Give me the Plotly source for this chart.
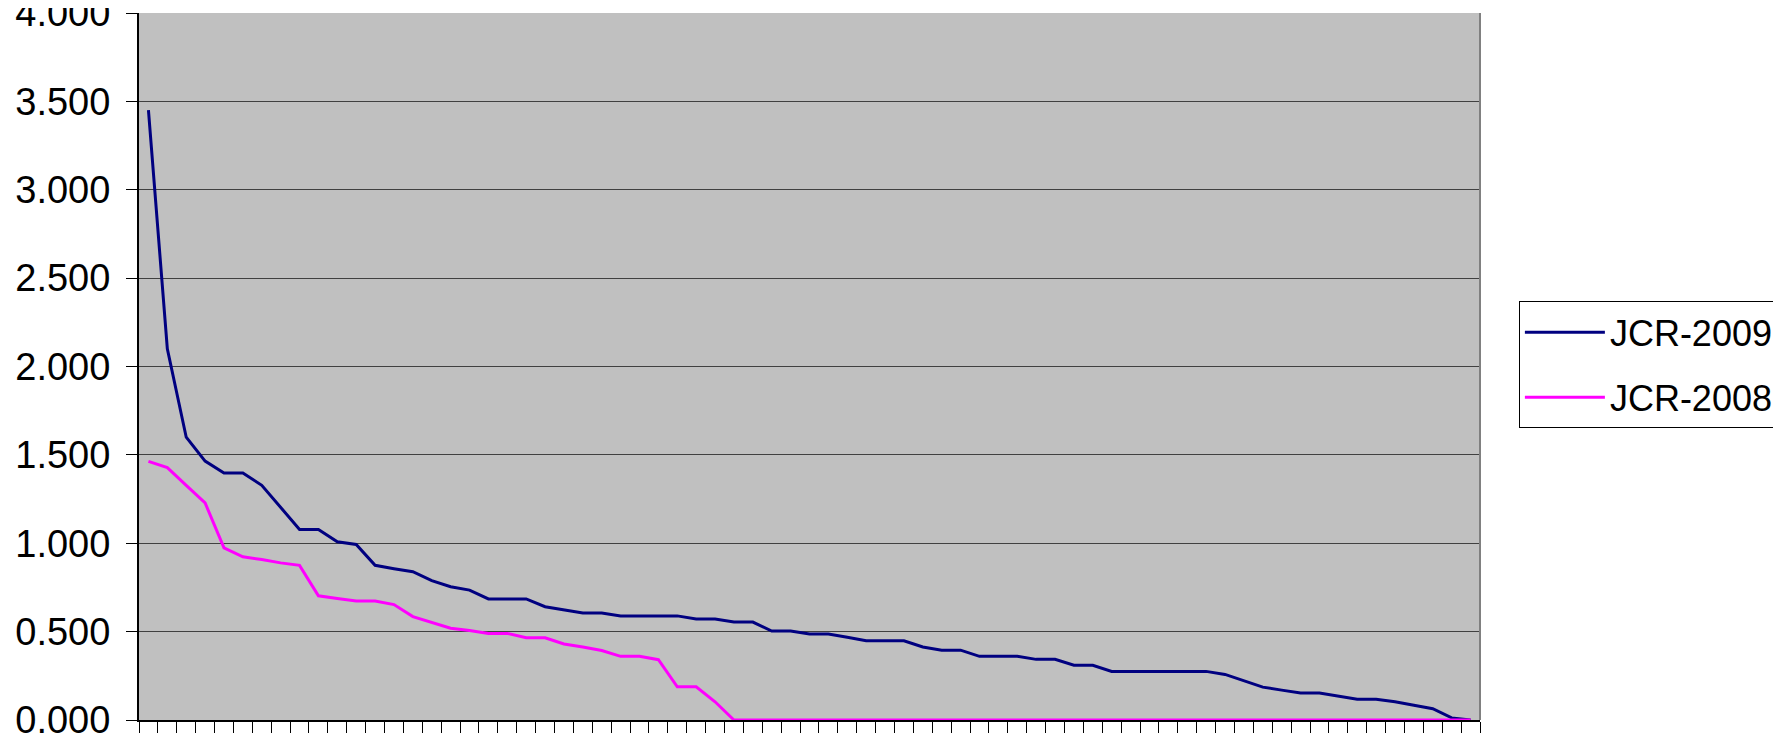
import plotly.graph_objects as go

categories = [
    1, 2, 3, 4, 5, 6, 7, 8, 9, 10, 11, 12, 13, 14, 15, 16, 17, 18, 19, 20,
    21, 22, 23, 24, 25, 26, 27, 28, 29, 30, 31, 32, 33, 34, 35, 36, 37, 38, 39, 40,
    41, 42, 43, 44, 45, 46, 47, 48, 49, 50, 51, 52, 53, 54, 55, 56, 57, 58, 59, 60,
    61, 62, 63, 64, 65, 66, 67, 68, 69, 70, 71,
]

jcr_2009 = [
    3.450, 2.100, 1.600, 1.465, 1.397, 1.397, 1.328, 1.200, 1.078, 1.078,
    1.008, 0.993, 0.875, 0.856, 0.839, 0.788, 0.754, 0.735, 0.685, 0.685,
    0.685, 0.641, 0.622, 0.605, 0.605, 0.589, 0.589, 0.589, 0.589, 0.572,
    0.572, 0.554, 0.554, 0.503, 0.503, 0.486, 0.486, 0.468, 0.448, 0.448,
    0.448, 0.413, 0.395, 0.395, 0.360, 0.360, 0.360, 0.343, 0.343, 0.310,
    0.310, 0.275, 0.275, 0.275, 0.275, 0.275, 0.275, 0.258, 0.223, 0.186,
    0.169, 0.153, 0.153, 0.136, 0.118, 0.118, 0.103, 0.083, 0.064, 0.012,
    0.000,
]

jcr_2008 = [
    1.463, 1.428, 1.328, 1.228, 0.974, 0.923, 0.908, 0.889, 0.875, 0.703,
    0.688, 0.673, 0.673, 0.653, 0.585, 0.553, 0.519, 0.506, 0.490, 0.490,
    0.465, 0.465, 0.430, 0.413, 0.393, 0.360, 0.360, 0.341, 0.188, 0.188,
    0.103, 0.000, 0.000, 0.000, 0.000, 0.000, 0.000, 0.000, 0.000, 0.000,
    0.000, 0.000, 0.000, 0.000, 0.000, 0.000, 0.000, 0.000, 0.000, 0.000,
    0.000, 0.000, 0.000, 0.000, 0.000, 0.000, 0.000, 0.000, 0.000, 0.000,
    0.000, 0.000, 0.000, 0.000, 0.000, 0.000, 0.000, 0.000, 0.000, 0.000,
    0.000,
]

series_names = ["JCR-2009", "JCR-2008"]
y_ticks = [0, 0.5, 1.0, 1.5, 2.0, 2.5, 3.0, 3.5, 4.0]

FONT = "Liberation Sans, Arial, sans-serif"

fig = go.Figure()
fig.add_trace(go.Scatter(
    x=[str(c) for c in categories], y=jcr_2009, mode="lines", name=series_names[0],
    line=dict(color="#000080", width=3), legendgroup="a",
))
fig.add_trace(go.Scatter(
    x=[str(c) for c in categories], y=jcr_2008, mode="lines", name=series_names[1],
    line=dict(color="#FF00FF", width=3), legendgroup="b",
))

fig.update_layout(
    width=1781, height=735,
    margin=dict(l=131, r=309, t=5, b=23, autoexpand=False),
    paper_bgcolor="white",
    plot_bgcolor="#C0C0C0",
    font=dict(family=FONT, size=38, color="black"),
    showlegend=True,
    legend=dict(
        x=1.029, xanchor="left", y=0.592, yanchor="top",
        bgcolor="white", bordercolor="black", borderwidth=1,
        font=dict(family=FONT, size=36, color="black"),
        itemwidth=80, tracegroupgap=15,
    ),
    xaxis=dict(
        type="category", tickson="boundaries", showticklabels=False,
        range=[-0.5, len(categories) - 0.5],
        ticks="outside", ticklen=11, tickcolor="black", tickwidth=1,
        showgrid=False, showline=True, linecolor="black", linewidth=2,
        zeroline=False, fixedrange=True,
    ),
    yaxis=dict(
        range=[0, 4], tickvals=y_ticks, tickformat=".3f",
        ticks="outside", ticklen=11, tickcolor="black", tickwidth=1,
        showgrid=True, gridcolor="#404040", gridwidth=1,
        showline=True, linecolor="black", linewidth=2,
        zeroline=False, ticklabelstandoff=8, ticklabeloverflow="allow",
    ),
)

fig.add_shape(type="line", xref="paper", yref="paper", x0=1, x1=1, y0=0, y1=1,
              line=dict(color="#808080", width=2), layer="above")

fig.write_html("out.html")
